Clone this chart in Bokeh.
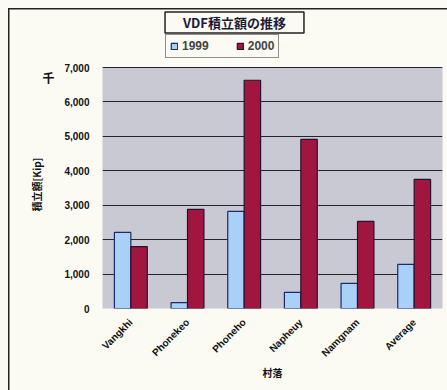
from bokeh.plotting import figure
from bokeh.models import (ColumnDataSource, FactorRange, Range1d, Legend, LegendItem,
                          Label, BoxAnnotation, NumeralTickFormatter, FixedTicker, LinearAxis)
from bokeh.transform import dodge
from bokeh.embed import file_html
from bokeh.resources import INLINE
from math import pi

villages = ["Vangkhi", "Phonekeo", "Phoneho", "Napheuy", "Namgnam", "Average"]
v1999 = [2210, 170, 2820, 470, 730, 1280]
v2000 = [1800, 2880, 6630, 4910, 2530, 3750]
series_names = ["1999", "2000"]
y_ticks = [0, 1000, 2000, 3000, 4000, 5000, 6000, 7000]
chart_title = "VDF積立額の推移"
unit_text = "千"
y_title = "積立額[Kip]"
x_title = "村落"

src = ColumnDataSource(dict(x=villages, a=v1999, b=v2000))

FONT = "Liberation Sans"
CJK = "Noto Sans CJK JP"
Y_TOP = 8714  # frame extends above the plot area to hold title and legend

p = figure(x_range=FactorRange(*villages), y_range=Range1d(0, Y_TOP),
           width=447, height=390,
           min_border_left=102, min_border_right=5, min_border_top=8, min_border_bottom=82,
           output_backend="svg", toolbar_location=None)
p.background_fill_alpha = 0
p.border_fill_alpha = 0
p.outline_line_color = None
p.styles = {"background": "linear-gradient(#222,#222) 8px 8px / 1.5px 100% no-repeat, "
                          "linear-gradient(#222,#222) 8px 8px / 100% 1.5px no-repeat, #fbfbf4"}

# plot area background (0 .. top tick)
p.add_layout(BoxAnnotation(bottom=y_ticks[0], top=y_ticks[-1], fill_color="#c9c9d4",
                           fill_alpha=1, line_color="#8a8a90", line_width=1, level="image"))

r1 = p.vbar(x=dodge("x", -0.145, range=p.x_range), top="a", width=0.29, source=src,
            fill_color="#a9d0f7", line_color="#1a2a6a", line_width=1.2)
r2 = p.vbar(x=dodge("x", 0.145, range=p.x_range), top="b", width=0.29, source=src,
            fill_color="#a0163e", line_color="#2a1030", line_width=1.2)

p.xgrid.grid_line_color = None
p.ygrid.grid_line_color = "#222233"
p.ygrid.grid_line_width = 1
p.yaxis.ticker = FixedTicker(ticks=y_ticks)
p.yaxis.formatter = NumeralTickFormatter(format="0,0")
p.yaxis.minor_tick_line_color = None
p.yaxis.axis_line_color = None
p.yaxis.major_tick_line_color = None
p.xaxis.axis_line_color = None
p.xaxis.major_tick_line_color = None

# outer left axes: unit mark and the vertical axis title
unit_axis = LinearAxis(ticker=FixedTicker(ticks=[6700]), major_label_overrides={6700: unit_text},
                       axis_line_color=None, major_tick_line_color=None,
                       minor_tick_line_color=None, major_label_standoff=1)
title_axis = LinearAxis(ticker=FixedTicker(ticks=[3600]), major_label_overrides={3600: y_title},
                        axis_line_color=None, major_tick_line_color=None,
                        minor_tick_line_color=None, major_label_standoff=-11,
                        major_label_orientation="vertical")
p.add_layout(unit_axis, "left")
p.add_layout(title_axis, "left")

for ax in (p.xaxis[0], p.yaxis[0]):
    ax.major_label_text_font = FONT
    ax.major_label_text_font_style = "bold"
    ax.major_label_text_font_size = "10px"
    ax.major_label_text_color = "#111111"
for ax in (unit_axis, title_axis, p.xaxis[0]):
    ax.axis_label_text_font = CJK
    ax.axis_label_text_font_style = "bold"
    ax.axis_label_text_font_size = "10px"
    ax.axis_label_text_color = "#111111"
    if ax is not p.xaxis[0]:
        ax.major_label_text_font = CJK
        ax.major_label_text_font_style = "bold"
        ax.major_label_text_color = "#111111"
unit_axis.major_label_text_font_size = "12px"
title_axis.major_label_text_font_size = "10px"
p.yaxis[0].major_label_standoff = 7
p.xaxis.major_label_orientation = pi / 4
p.xaxis.major_label_standoff = 6
p.xaxis.axis_label = x_title
p.xaxis.axis_label_standoff = 0

# chart title box
p.add_layout(Label(x=132, y=286, x_units="screen", y_units="screen", text=chart_title,
                   text_font=CJK, text_font_style="bold", text_font_size="13px",
                   text_align="center", text_baseline="middle", text_color="#1a1a3a",
                   border_line_color="#222222", border_line_width=1.5,
                   background_fill_color="#fbfbf4", padding=(18, 1)))

legend = Legend(items=[LegendItem(label=series_names[0], renderers=[r1]),
                       LegendItem(label=series_names[1], renderers=[r2])],
                orientation="horizontal", location=(63, 250),
                label_text_font=FONT, label_text_font_style="bold", label_text_font_size="12px",
                glyph_width=8, glyph_height=8, spacing=27, padding=4, margin=0,
                label_standoff=4, label_height=13,
                border_line_color="#222222", border_line_width=1.5,
                background_fill_color="#fbfbf4", background_fill_alpha=1)
p.add_layout(legend)

open("out.html", "w").write(file_html(p, INLINE))
